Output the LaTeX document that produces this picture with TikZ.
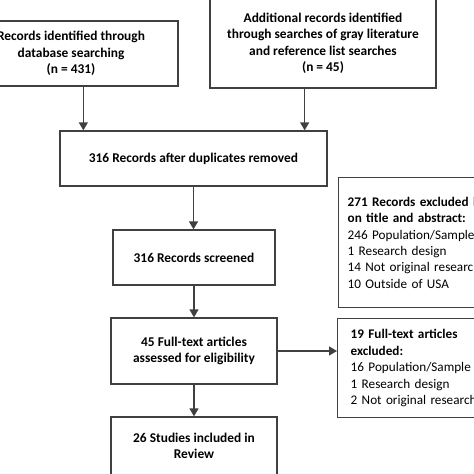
\documentclass[tikz,border=0pt]{standalone}
\usepackage{fontspec}
\setmainfont{Carlito}
\usetikzlibrary{arrows.meta,calc}
\definecolor{linegray}{HTML}{404040}
\begin{document}
\begin{tikzpicture}[x=1pt,y=-1pt,
  box/.style={draw=linegray, line width=1.3pt, align=center, inner sep=0pt,
    font=\bfseries\fontsize{13.4}{16.5}\selectfont},
  side/.style={box, font=\fontsize{13.2}{16.4}\selectfont, align=left,
    text width=170pt, inner xsep=9pt, anchor=north west},
  flow/.style={draw=linegray, line width=1.3pt, -{Triangle[length=8pt,width=9pt]}}]
\useasboundingbox (0,0) rectangle (474,474);
\clip (0,0) rectangle (474,474);

\node[box, minimum width=214pt, minimum height=65pt] (1) at (71,53.5) {Records identified through\\database searching\\(n = 431)};
\node[box, minimum width=226pt, minimum height=89pt] (2) at (323,43.5) {Additional records identified\\through searches of gray literature\\and reference list searches\\(n = 45)};
\node[box, minimum width=267pt, minimum height=55pt] (3) at (193.5,158.5) {316 Records after duplicates removed};
\node[side, minimum height=130pt] (4) at (338,177) {\textbf{271 Records excluded based}\\\textbf{on title and abstract:}\\246 Population/Sample\\1 Research design\\14 Not original research\\10 Outside of USA};
\node[box, minimum width=162pt, minimum height=55pt] (5) at (194,257.5) {316 Records screened};
\node[box, minimum width=166pt, minimum height=66pt] (6) at (194,351) {45 Full-text articles\\assessed for eligibility};
\node[side, inner xsep=13pt, minimum height=99pt] (7) at (337,318) {\textbf{19 Full-text articles}\\\textbf{excluded:}\\16 Population/Sample\\1 Research design\\2 Not original research};
\node[box, minimum width=166pt, minimum height=58pt] (8) at (194,446) {26 Studies included in\\Review};

\coordinate (a) at ($(3.north west)+(24,0)$);
\coordinate (b) at ($(3.north east)+(-23,0)$);
\draw[flow] (1.south -| a) -- (a);
\draw[flow] (2.south -| b) -- (b);
\draw[flow] (3.south) -- (3.south |- 5.north);
\draw[flow] (5.south) -- (6.north);
\draw[flow] (6.east) -- (6.east -| 7.west);
\draw[flow] (6.south) -- (8.north);
\end{tikzpicture}
\end{document}
